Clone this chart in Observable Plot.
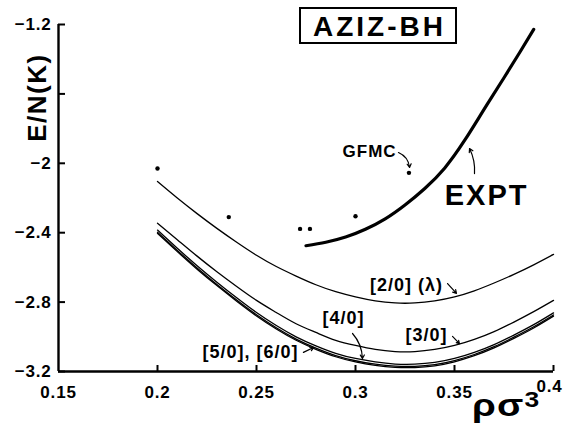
<!DOCTYPE html>
<html>
<head>
<meta charset="utf-8">
<script src="https://cdn.jsdelivr.net/npm/d3@7"></script>
<script src="https://cdn.jsdelivr.net/npm/@observablehq/plot@0.6"></script>
<style>
  html, body { margin: 0; padding: 0; background: #fff; }
  #wrap { position: relative; width: 570px; height: 423px; font-family: "Liberation Sans", Arial, Helvetica, sans-serif; }
  #wrap svg text { font-weight: bold; }
  #title { position: absolute; left: 299px; top: 7px; width: 154px; height: 33px; border: 2px solid #000;
           font: bold 28px "Liberation Sans", Arial, sans-serif; text-align: center; line-height: 35px; color: #000;
           letter-spacing: 3px; text-indent: 3px; }
  #xlabel { position: absolute; left: 472px; top: 390px; font: bold 32px "Liberation Sans", Arial, sans-serif; color: #000;
            line-height: 30px; transform: scaleX(1.2); transform-origin: left center; white-space: nowrap; letter-spacing: 1px; }
  #xlabel sup { font-size: 22px; position: relative; top: -9px; vertical-align: baseline; line-height: 0; margin-left: 0px; }
</style>
</head>
<body>
<div id="wrap"></div>
<script>
// ---- data ----
const xDomain = [0.15, 0.4];
const yDomain = [-3.2, -1.2];
const xTickMarks = [0.2, 0.25, 0.3, 0.35, 0.4];
const xTickLabels = [0.15, 0.2, 0.25, 0.3, 0.35];
const xTickLabelEnd = [0.4];
const yTickMarks = [-1.2, -1.6, -2, -2.4, -2.8, -3.2];
const yTickLabels = [-1.2, -2, -2.4, -2.8, -3.2];

const rho = [0.20, 0.21, 0.22, 0.23, 0.24, 0.25, 0.26, 0.27, 0.28, 0.29, 0.30,
             0.31, 0.32, 0.33, 0.34, 0.35, 0.36, 0.37, 0.38, 0.39, 0.40];
const pade20 = [-2.105, -2.20, -2.29, -2.375, -2.455, -2.53, -2.595, -2.65, -2.70, -2.74, -2.77,
                -2.793, -2.805, -2.805, -2.793, -2.77, -2.735, -2.69, -2.64, -2.585, -2.525];
const pade30 = [-2.345, -2.44, -2.535, -2.625, -2.71, -2.79, -2.86, -2.925, -2.975, -3.02, -3.05,
                -3.073, -3.085, -3.085, -3.073, -3.05, -3.015, -2.97, -2.915, -2.855, -2.79];
const pade40 = [-2.385, -2.49, -2.59, -2.685, -2.775, -2.86, -2.935, -3.0, -3.052, -3.095, -3.125,
                -3.145, -3.157, -3.158, -3.148, -3.125, -3.09, -3.045, -2.99, -2.93, -2.862];
const pade50 = [-2.397, -2.502, -2.603, -2.698, -2.788, -2.873, -2.948, -3.013, -3.065, -3.108, -3.138,
                -3.158, -3.169, -3.170, -3.160, -3.137, -3.102, -3.057, -3.002, -2.942, -2.874];
const pade60 = [-2.404, -2.509, -2.610, -2.705, -2.795, -2.880, -2.955, -3.020, -3.072, -3.115, -3.145,
                -3.165, -3.176, -3.177, -3.167, -3.144, -3.109, -3.064, -3.009, -2.949, -2.881];
const seriesNames = ["[2/0]", "[3/0]", "[4/0]", "[5/0]", "[6/0]"];
const seriesValues = [pade20, pade30, pade40, pade50, pade60];

const exptX = [0.275, 0.285, 0.295, 0.305, 0.315, 0.325, 0.335, 0.345, 0.355, 0.365, 0.375, 0.383, 0.39];
const exptY = [-2.475, -2.455, -2.425, -2.38, -2.32, -2.24, -2.145, -2.028, -1.87, -1.688, -1.507, -1.36, -1.228];

const gfmcX = [0.2, 0.236, 0.272, 0.277, 0.3, 0.327];
const gfmcY = [-2.03, -2.31, -2.378, -2.378, -2.305, -2.055];

// annotations
const noteText = ["GFMC", "EXPT", "[2/0] (λ)", "[3/0]", "[4/0]", "[5/0], [6/0]"];
const noteX = [0.3071, 0.3662, 0.3258, 0.3359, 0.2939, 0.247];
const noteY = [-1.932, -2.186, -2.704, -2.992, -2.895, -3.090];
const noteSize = [17, 29, 18, 18, 18, 18];
const noteSpacing = [1, 2, 1, 1, 1, 1];

const arrowX1 = [0.3217, 0.3601, 0.3465, 0.349, 0.2985, 0.2737];
const arrowY1 = [-1.938, -2.059, -2.693, -2.998, -2.981, -3.090];
const arrowX2 = [0.3273, 0.3576, 0.351, 0.3525, 0.3035, 0.2788];
const arrowY2 = [-2.024, -1.915, -2.75, -3.039, -3.125, -3.062];
const arrowBend = [30, -15, 0, 0, 20, 0];

const yLabel = "E/N(K)";
const yLabelAt = -1.621;

// ---- build ----
const curves = seriesNames.flatMap((name, i) => rho.map((r, j) => ({series: name, x: r, y: seriesValues[i][j]})));
const expt = exptX.map((x, i) => ({x, y: exptY[i]}));
const gfmc = gfmcX.map((x, i) => ({x, y: gfmcY[i]}));
const notes = noteText.map((t, i) => ({t, x: noteX[i], y: noteY[i], s: noteSize[i], ls: noteSpacing[i]}));
const arrows = arrowX1.map((x1, i) => ({x1, y1: arrowY1[i], x2: arrowX2[i], y2: arrowY2[i], b: arrowBend[i]}));
const fmt = d => String(d).replace("-", "\u2212");

const chart = Plot.plot({
  width: 570, height: 423,
  marginLeft: 58, marginRight: 17, marginTop: 24, marginBottom: 52,
  x: {domain: xDomain},
  y: {domain: yDomain},
  style: {fontFamily: "'Liberation Sans', Arial, sans-serif", background: "#fff", color: "#000"},
  marks: [
    Plot.ruleX([xDomain[0]], {y1: yDomain[0], y2: yDomain[1], strokeWidth: 2.4}),
    Plot.ruleY([yDomain[0]], {x1: xDomain[0], x2: xDomain[1], strokeWidth: 2.4}),
    Plot.axisX({ticks: xTickMarks, tickSize: 6, dy: -6, tickFormat: () => "", label: null, strokeWidth: 2}),
    Plot.axisY({ticks: yTickMarks, tickSize: 7, dx: 7, tickFormat: () => "", label: null, strokeWidth: 2}),
    Plot.axisX({ticks: xTickLabels, tickSize: 0, tickPadding: 14, tickFormat: fmt, fontSize: 17, label: null}),
    Plot.axisX({ticks: xTickLabelEnd, tickSize: 0, tickPadding: 8, dx: -4, tickFormat: fmt, fontSize: 17, label: null}),
    Plot.axisY({ticks: yTickLabels, tickSize: 0, tickPadding: 7, tickFormat: fmt, fontSize: 17, label: null}),
    Plot.line(curves, {x: "x", y: "y", z: "series", curve: "natural", stroke: "#000", strokeWidth: 1.3}),
    Plot.line(expt, {x: "x", y: "y", curve: "natural", stroke: "#000", strokeWidth: 3.2}),
    Plot.dot(gfmc, {x: "x", y: "y", r: 2.2, fill: "#000", stroke: null}),
    ...notes.map(n => Plot.text([n], {x: "x", y: "y", text: "t", fontSize: n.s, fill: "#000"})),
    ...arrows.map(a => Plot.arrow([a], {x1: "x1", y1: "y1", x2: "x2", y2: "y2", bend: a.b, headLength: 5, stroke: "#000", strokeWidth: 1.2})),
    Plot.text([yLabelAt], {y: d => d, frameAnchor: "left", textAnchor: "middle", dx: -21, rotate: -90, text: () => yLabel, fontSize: 26, fill: "#000"})
  ]
});

// letter spacing to match the wider original lettering
d3.select(chart).selectAll("text").each(function() {
  const t = this.textContent;
  const n = notes.find(n => n.t === t);
  if (n) d3.select(this).style("letter-spacing", n.ls + "px");
  else if (t !== yLabel) d3.select(this).style("letter-spacing", "0.8px");
  else d3.select(this).style("letter-spacing", "1.5px");
});

const wrap = document.getElementById("wrap");
wrap.appendChild(chart);
const title = document.createElement("div");
title.id = "title"; title.textContent = "AZIZ-BH";
wrap.appendChild(title);
const xl = document.createElement("div");
xl.id = "xlabel"; xl.innerHTML = "ρσ<sup>3</sup>";
wrap.appendChild(xl);
</script>
</body>
</html>
